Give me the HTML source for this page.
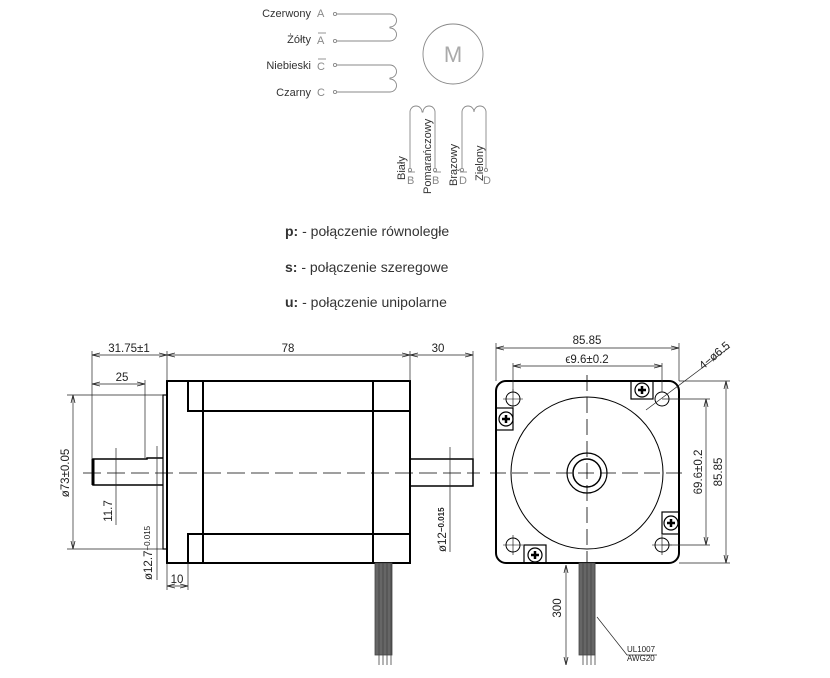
<!DOCTYPE html>
<html><head><meta charset="utf-8"><style>
body{margin:0;background:#fff;width:830px;height:678px;overflow:hidden}
svg{display:block}
.t{font-family:"Liberation Sans",sans-serif;fill:#333}
.d{font-family:"Liberation Sans",sans-serif;fill:#222;font-size:11.5px}
</style></head><body>
<svg width="830" height="678" viewBox="0 0 830 678" xmlns="http://www.w3.org/2000/svg">
<defs>
<marker id="ar" markerWidth="8" markerHeight="6" refX="8" refY="3" orient="auto-start-reverse" markerUnits="userSpaceOnUse"><path d="M0,1 L8,3 L0,5" fill="none" stroke="#222" stroke-width="0.8"/></marker>
</defs>
<!-- top schematic -->
<g class="t" font-size="11" text-anchor="end">
<text x="311" y="17">Czerwony</text><text x="311" y="43">Żółty</text>
<text x="311" y="69">Niebieski</text><text x="311" y="96">Czarny</text>
</g>
<g class="t" font-size="11">
<text x="317" y="17" fill="#888">A</text><text x="317" y="44" fill="#888">A</text>
<text x="317" y="70" fill="#888">C</text><text x="317" y="96" fill="#888">C</text>
</g>
<g stroke="#888" fill="none" stroke-width="0.9">
<line x1="318" y1="33" x2="326" y2="33"/><line x1="318" y1="59" x2="326" y2="59"/>
<line x1="408" y1="172" x2="415" y2="172"/><line x1="434" y1="172" x2="441" y2="172"/><line x1="460" y1="172" x2="467" y2="172"/>
<circle cx="335" cy="14" r="1.6"/><circle cx="335" cy="41" r="1.6"/><circle cx="335" cy="65" r="1.6"/><circle cx="335" cy="92" r="1.6"/>
<path d="M337,14 H390 a6,6 0 0 1 0,13 a4,2 0 0 0 0,1 a6,6 0 0 1 0,13 H337"/>
<path d="M337,65 H390 a6,6 0 0 1 0,13 a4,2 0 0 0 0,1 a6,6 0 0 1 0,13 H337"/>
<circle cx="453" cy="54" r="30"/>
<path d="M410,168 V112 a6,6 0 0 1 12,0 a2,4 0 0 0 1,0 a6,6 0 0 1 12,0 V168"/>
<path d="M462,168 V112 a6,6 0 0 1 12,0 a6,6 0 0 1 12,0 V168"/>
<circle cx="410" cy="170" r="1.6"/><circle cx="435" cy="170" r="1.6"/><circle cx="462" cy="170" r="1.6"/><circle cx="486" cy="170" r="1.6"/>
</g>
<text x="453" y="62" text-anchor="middle" font-family="Liberation Sans,sans-serif" font-size="22" fill="#aaa" font-weight="normal">M</text>
<g class="t" font-size="11">
<text transform="translate(405,180) rotate(-90)">Biały</text>
<text transform="translate(431,194) rotate(-90)">Pomarańczowy</text>
<text transform="translate(457,186) rotate(-90)">Brązowy</text>
<text transform="translate(483,181) rotate(-90)">Zielony</text>
<text x="407" y="184" fill="#888">B</text><text x="432" y="184" fill="#888">B</text>
<text x="459" y="184" fill="#888">D</text><text x="483" y="184" fill="#888">D</text>
</g>
<g class="t" font-size="14" fill="#222">
<text x="285" y="236"><tspan font-weight="bold">p:</tspan> - połączenie równoległe</text>
<text x="285" y="272"><tspan font-weight="bold">s:</tspan> - połączenie szeregowe</text>
<text x="285" y="307"><tspan font-weight="bold">u:</tspan> - połączenie unipolarne</text>
</g>
<!-- side view -->
<g stroke="#000" fill="none" stroke-width="2">
<rect x="167" y="381" width="243" height="182"/>
<line x1="203" y1="381" x2="203" y2="563"/><line x1="373" y1="381" x2="373" y2="563"/>
<polyline points="188,381 188,411 410,411"/><polyline points="188,563 188,534 410,534"/>
<rect x="163" y="395" width="4" height="154" stroke-width="1.2"/>
<polyline points="163,458 147,458 147,459 93,459 93,485 163,485" stroke-width="1.5"/>
<line x1="93" y1="459" x2="93" y2="485" stroke-width="3"/>
<polyline points="410,459 473,459 473,486 410,486" stroke-width="1.5"/>
</g>
<line x1="83" y1="473" x2="480" y2="473" stroke="#000" stroke-width="0.8" stroke-dasharray="18,6"/>
<g stroke="#222" stroke-width="0.7" fill="none">
<line x1="92" y1="351" x2="92" y2="459"/><line x1="167" y1="351" x2="167" y2="381"/><line x1="410" y1="351" x2="410" y2="381"/><line x1="473" y1="351" x2="473" y2="459"/>
<line x1="92" y1="355" x2="167" y2="355" marker-start="url(#ar)" marker-end="url(#ar)"/>
<line x1="167" y1="355" x2="410" y2="355" marker-start="url(#ar)" marker-end="url(#ar)"/>
<line x1="410" y1="355" x2="473" y2="355" marker-start="url(#ar)" marker-end="url(#ar)"/>
<line x1="145" y1="380" x2="145" y2="458"/>
<line x1="92" y1="384" x2="145" y2="384" marker-start="url(#ar)" marker-end="url(#ar)"/>
<line x1="67" y1="395" x2="163" y2="395"/><line x1="67" y1="549" x2="163" y2="549"/>
<line x1="73" y1="395" x2="73" y2="549" marker-start="url(#ar)" marker-end="url(#ar)"/>
<line x1="116" y1="448" x2="116" y2="525"/>
<line x1="157" y1="446" x2="157" y2="580"/>
<line x1="450" y1="447" x2="450" y2="552"/>
<line x1="167" y1="563" x2="167" y2="590"/><line x1="188" y1="563" x2="188" y2="590"/>
<line x1="167" y1="586" x2="188" y2="586" marker-start="url(#ar)" marker-end="url(#ar)"/>
</g>
<g stroke="#444" stroke-width="0.8">
<rect x="375" y="563" width="17" height="92" fill="#666"/>
<line x1="379" y1="563" x2="379" y2="665"/><line x1="383" y1="563" x2="383" y2="665"/><line x1="387" y1="563" x2="387" y2="665"/><line x1="391" y1="563" x2="391" y2="665"/>
</g>
<g class="d">
<text x="129" y="352" text-anchor="middle">31.75±1</text>
<text x="288" y="352" text-anchor="middle">78</text>
<text x="438" y="352" text-anchor="middle">30</text>
<text x="122" y="381" text-anchor="middle">25</text>
<text transform="translate(69,473) rotate(-90)" text-anchor="middle">ø73±0.05</text>
<text transform="translate(112,511) rotate(-90)" text-anchor="middle">11.7</text>
<text transform="translate(152,580) rotate(-90)">ø12.7<tspan font-size="8" dy="-2">−0.015</tspan></text>
<text transform="translate(446,552) rotate(-90)">ø12<tspan font-size="8" dy="-2" font-weight="bold">−0.015</tspan></text>
<text x="177" y="583" text-anchor="middle">10</text>
</g>
<!-- front view -->
<g stroke="#000" fill="none">
<rect x="496" y="381" width="183" height="182" rx="10" stroke-width="2"/>
<circle cx="587" cy="473" r="76" stroke-width="1"/>
<circle cx="587" cy="473" r="20" stroke-width="1.2"/><circle cx="587" cy="473" r="14" stroke-width="1.5"/>
<g stroke-width="1"><circle cx="513" cy="399" r="7"/><circle cx="662" cy="399" r="7"/><circle cx="513" cy="545" r="7"/><circle cx="662" cy="545" r="7"/></g>
<g stroke-width="0.6"><path d="M503,399h20M513,389v20M652,545h20M662,535v20M503,545h20M513,535v20"/></g>
<g stroke-width="1.2">
<rect x="631" y="381" width="22" height="18"/><circle cx="642" cy="390" r="7"/>
<rect x="496" y="408" width="17" height="22"/><circle cx="506" cy="419" r="7"/>
<rect x="662" y="512" width="17" height="22"/><circle cx="671" cy="523" r="7"/>
<rect x="524" y="545" width="22" height="18"/><circle cx="535" cy="555" r="7"/>
</g>
<g stroke-width="2.5"><path d="M638,390h8M642,386v8M502,419h8M506,415v8M667,523h8M671,519v8M531,555h8M535,551v8"/></g>
</g>
<g stroke="#000" stroke-width="0.8" stroke-dasharray="16,6"><line x1="490" y1="473" x2="685" y2="473"/><line x1="587" y1="375" x2="587" y2="565"/></g>
<g stroke="#222" stroke-width="0.7" fill="none">
<line x1="496" y1="343" x2="496" y2="381"/><line x1="679" y1="343" x2="679" y2="381"/>
<line x1="496" y1="348" x2="679" y2="348" marker-start="url(#ar)" marker-end="url(#ar)"/>
<line x1="513" y1="363" x2="513" y2="392"/><line x1="662" y1="363" x2="662" y2="392"/>
<line x1="513" y1="366" x2="662" y2="366" marker-start="url(#ar)" marker-end="url(#ar)"/>
<line x1="662" y1="399" x2="710" y2="399"/><line x1="662" y1="545" x2="710" y2="545"/>
<line x1="706" y1="399" x2="706" y2="545" marker-start="url(#ar)" marker-end="url(#ar)"/>
<line x1="679" y1="381" x2="730" y2="381"/><line x1="679" y1="563" x2="730" y2="563"/>
<line x1="726" y1="381" x2="726" y2="563" marker-start="url(#ar)" marker-end="url(#ar)"/>
<line x1="646" y1="410" x2="730" y2="347"/>
<line x1="566" y1="565" x2="566" y2="665" marker-start="url(#ar)" marker-end="url(#ar)"/>
<polyline points="597,617 627,655 657,655"/>
</g>
<g stroke="#444" stroke-width="0.8">
<rect x="579" y="563" width="16" height="92" fill="#666"/>
<line x1="583" y1="563" x2="583" y2="665"/><line x1="587" y1="563" x2="587" y2="665"/><line x1="591" y1="563" x2="591" y2="665"/><line x1="595" y1="563" x2="595" y2="665"/>
</g>
<g class="d">
<text x="587" y="344" text-anchor="middle">85.85</text>
<text x="587" y="363" text-anchor="middle">ϵ9.6±0.2</text>
<text transform="translate(702,472) rotate(-90)" text-anchor="middle">69.6±0.2</text>
<text transform="translate(722,472) rotate(-90)" text-anchor="middle">85.85</text>
<text transform="translate(703,370) rotate(-40)">4−ø6.5</text>
<text transform="translate(561,608) rotate(-90)" text-anchor="middle">300</text>
<text x="627" y="652" font-size="8">UL1007</text>
<text x="627" y="661" font-size="8">AWG20</text>
</g>
</svg>
</body></html>
